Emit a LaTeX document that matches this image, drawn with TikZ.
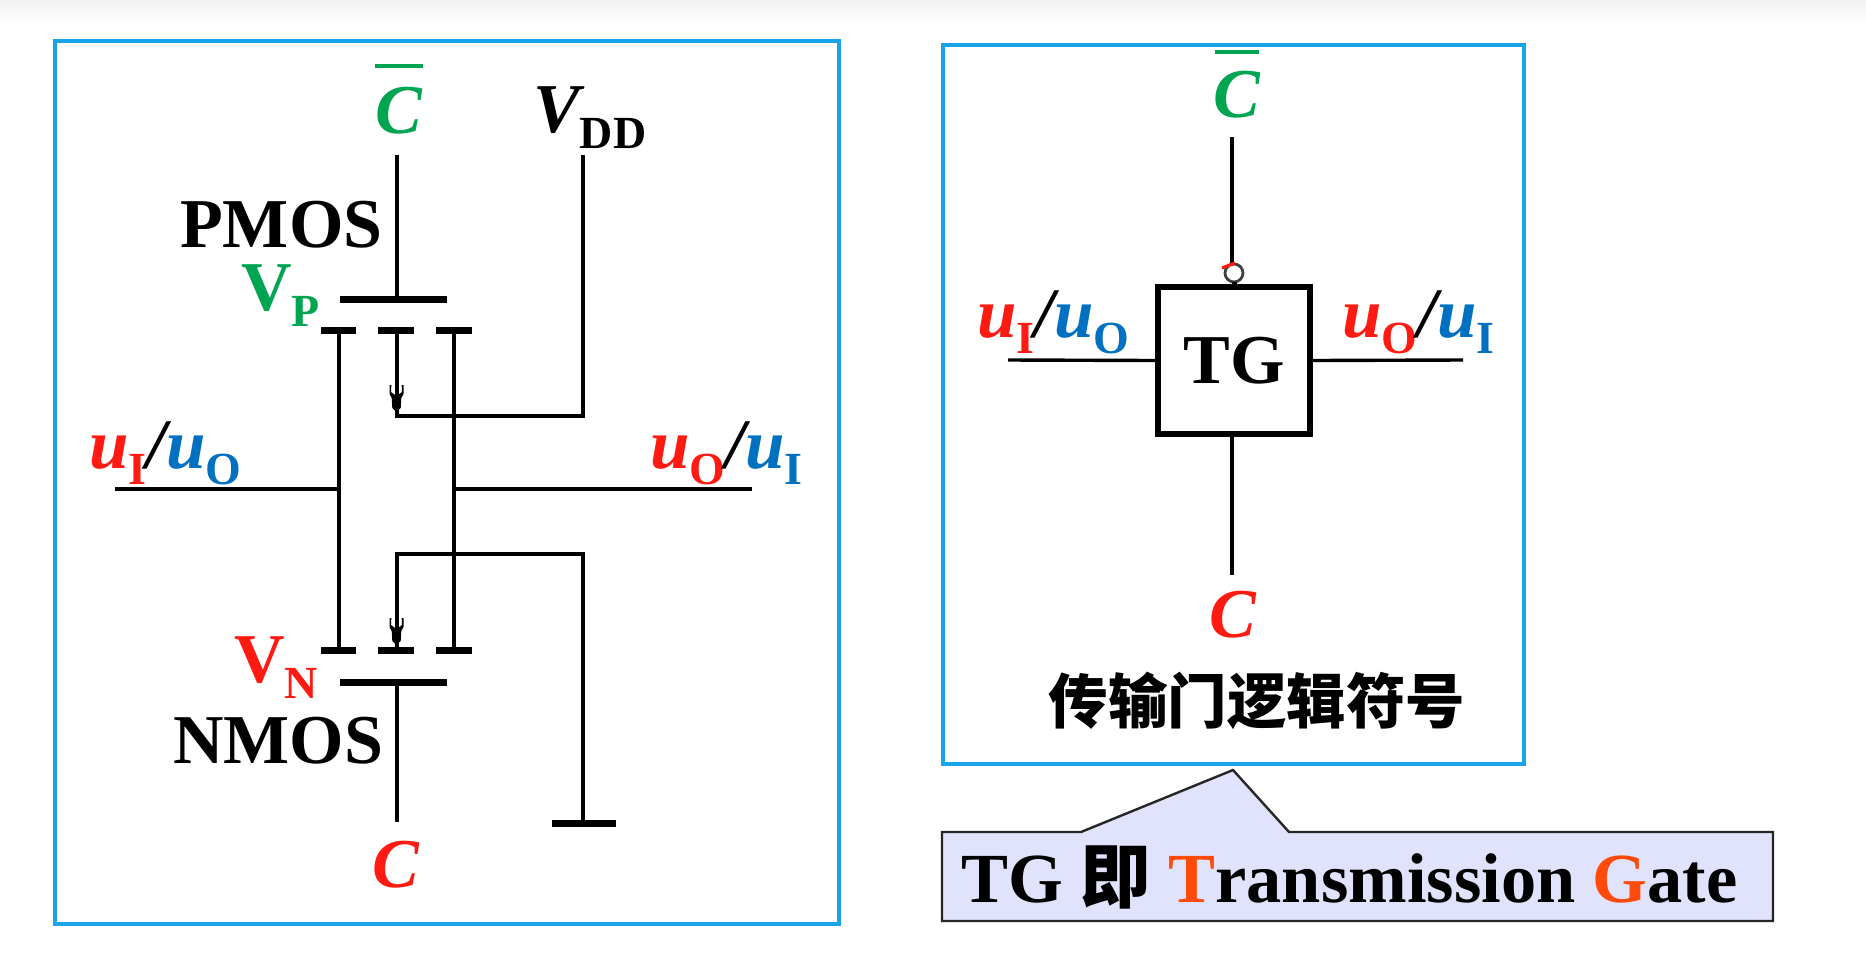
\documentclass[tikz,border=0pt]{standalone}
\usepackage{fontspec}
\setmainfont{Liberation Serif}
\newfontfamily\cjkfont{Noto Sans CJK SC}
\definecolor{frameblue}{HTML}{18A4E8}
\definecolor{mred}{HTML}{FF1A12}
\definecolor{mgreen}{HTML}{00A551}
\definecolor{mblue}{HTML}{0070C0}
\definecolor{morange}{HTML}{FF4A0A}
\definecolor{callfill}{HTML}{E1E2FB}
\newcommand{\bigf}{\fontsize{70}{70}\selectfont\bfseries}
\newcommand{\uf}{\fontsize{71}{71}\selectfont\bfseries\itshape}
\newcommand{\subf}[1]{{\fontsize{46}{46}\selectfont\bfseries\raisebox{-16pt}{#1}}}
\newcommand{\uIO}[2]{{\uf\color{mred}u}\textcolor{mred}{\subf{#1}}{\uf /}{\uf\color{mblue}u}\textcolor{mblue}{\subf{#2}}}
\tikzset{
  wire/.style={line width=4pt,line cap=butt,line join=miter,black},
  thinwire/.style={line width=3.4pt,black},
  gatebar/.style={line width=7pt,black},
  chanbar/.style={line width=7pt,black},
  frame/.style={draw=frameblue,line width=4.4pt},
  lbl/.style={inner sep=0pt,anchor=base west,font=\bigf},
  over/.style={line width=3.6pt,mgreen},
  mosarrow/.pic={\fill[black] (-7,0) -- (-7,9) -- (-4.8,13) -- (-4.2,23) -- (0,27) -- (4.2,23) -- (4.8,13) -- (7,9) -- (7,0) -- (5.2,0) -- (5.4,7) -- (1.5,10) -- (-1.5,10) -- (-5.4,7) -- (-5.2,0) -- cycle;}
}
\begin{document}
\begin{tikzpicture}[x=1pt,y=-1pt]
\useasboundingbox (0,0) rectangle (1866,975);
\fill[white] (0,0) rectangle (1866,975);
\shade[top color=black!5,bottom color=white] (0,0) rectangle (1866,24);
% frames
\node[frame,inner sep=0pt,minimum width=784pt,minimum height=883pt,anchor=north west] (leftframe) at (53,39) {};
\node[frame,inner sep=0pt,minimum width=581pt,minimum height=719pt,anchor=north west] (rightframe) at (941,43) {};
% named points, left circuit
\coordinate (gpTop) at (396.5,155);
\coordinate (gpMid) at (396.5,299);
\coordinate (gpL) at (340,299);
\coordinate (gpR) at (447,299);
\coordinate (pdL) at (338.5,330);
\coordinate (psM) at (396.5,330);
\coordinate (pdR) at (454,330);
\coordinate (bulkP) at (396.5,415.5);
\coordinate (vddTop) at (583,155);
\coordinate (vddB) at (583,415.5);
\coordinate (inL) at (115,488.5);
\coordinate (jL) at (338.5,488.5);
\coordinate (jR) at (454,488.5);
\coordinate (outR) at (752,488.5);
\coordinate (ndL) at (338.5,650);
\coordinate (nsM) at (396.5,650);
\coordinate (ndR) at (454,650);
\coordinate (bulkN) at (396.5,553.5);
\coordinate (gndT) at (583,553.5);
\coordinate (gndB) at (583,823);
\coordinate (gnMid) at (396.5,682);
\coordinate (gnL) at (340,682);
\coordinate (gnR) at (447,682);
\coordinate (gnBot) at (396.5,822);
% wires
\draw[wire] (gpTop) -- (gpMid);
\draw[gatebar] (gpL) -- (gpR);
\draw[chanbar] (321,330) -- (356,330);
\draw[chanbar] (378,330) -- (414,330);
\draw[chanbar] (436,330) -- (472,330);
\draw[wire] (pdL) -- (ndL);
\draw[wire] (pdR) -- (ndR);
\draw[wire] (psM) -- (bulkP) -- (vddB) -- (vddTop);
\draw[wire] (inL) -- (jL);
\draw[wire] (jR) -- (outR);
\draw[wire] (nsM) -- (bulkN) -- (gndT) -- (gndB);
\draw[chanbar] (321,650) -- (356,650);
\draw[chanbar] (378,650) -- (414,650);
\draw[chanbar] (436,650) -- (472,650);
\draw[gatebar] (gnL) -- (gnR);
\draw[wire] (gnMid) -- (gnBot);
\draw[gatebar] (552,823) -- (616,823);
\pic at (396.5,385) {mosarrow};
\pic at (396.5,618) {mosarrow};
% left labels
\node[lbl,text=mgreen] (cbarL) at (375,133) {\itshape C};
\draw[over] (375,66) -- (423,66);
\node[lbl] (vdd) at (533,132) {{\itshape V}\subf{DD}};
\node[lbl] (pmos) at (180,247) {PMOS};
\node[lbl,text=mgreen] (vp) at (241,310) {V\subf{P}};
\node[lbl] (uiL) at (89,468) {\uIO{I}{O}};
\node[lbl] (uoR) at (650,468) {\uIO{O}{I}};
\node[lbl,text=mred] (vn) at (234,682) {V\subf{N}};
\node[lbl] (nmos) at (173,763) {NMOS};
\node[lbl,text=mred] (cL) at (372,887) {\itshape C};
% TG symbol
\node[draw=black,line width=6pt,minimum width=152pt,minimum height=147pt,inner sep=0pt,font=\bigf] (tg) at (1234,360.5) {TG};
\node[circle,draw=black!75,line width=2.8pt,minimum size=18pt,inner sep=0pt] (bubble) at (1234,273) {};
\draw[line width=5pt,black] (1234,282) -- (1234,287);
\coordinate (tgTop) at (1232,137);
\coordinate (tgBot) at (1232,575);
\coordinate (tgIn) at (1008,360);
\coordinate (tgOut) at (1463,360);
\draw[thinwire] (tgTop) -- (1232,264);
\draw[thinwire] (1232,434) -- (tgBot);
\draw[thinwire] (tgIn) -- (tg.west);
\draw[thinwire] (tg.east) -- (tgOut);
\draw[line width=3.2pt,mred] (1222,268) -- (1235,263);
\node[lbl,text=mgreen] (cbarR) at (1213,117) {\itshape C};
\draw[over] (1215,52) -- (1259,52);
\node[lbl] (uiR) at (977,337) {\uIO{I}{O}};
\node[lbl] (uoRR) at (1342,337) {\uIO{O}{I}};
\node[lbl,text=mred] (cR) at (1209,637) {\itshape C};
\node[inner sep=0pt,anchor=center,font=\cjkfont\bfseries\fontsize{59.5}{59.5}\selectfont] (cap) at (1257,701) {传输门逻辑符号};
% callout
\draw[black!85,line width=2.4pt,fill=callfill] (942,832) -- (1081,832) -- (1233,770) -- (1289,832) -- (1773,832) -- (1773,921) -- (942,921) -- cycle;
\node[lbl,font=\fontsize{70.4}{70.4}\selectfont\bfseries] (tgtext) at (961,902) {TG {\cjkfont\bfseries 即} \textcolor{morange}{T}ransmission \textcolor{morange}{G}ate};
\end{tikzpicture}
\end{document}
